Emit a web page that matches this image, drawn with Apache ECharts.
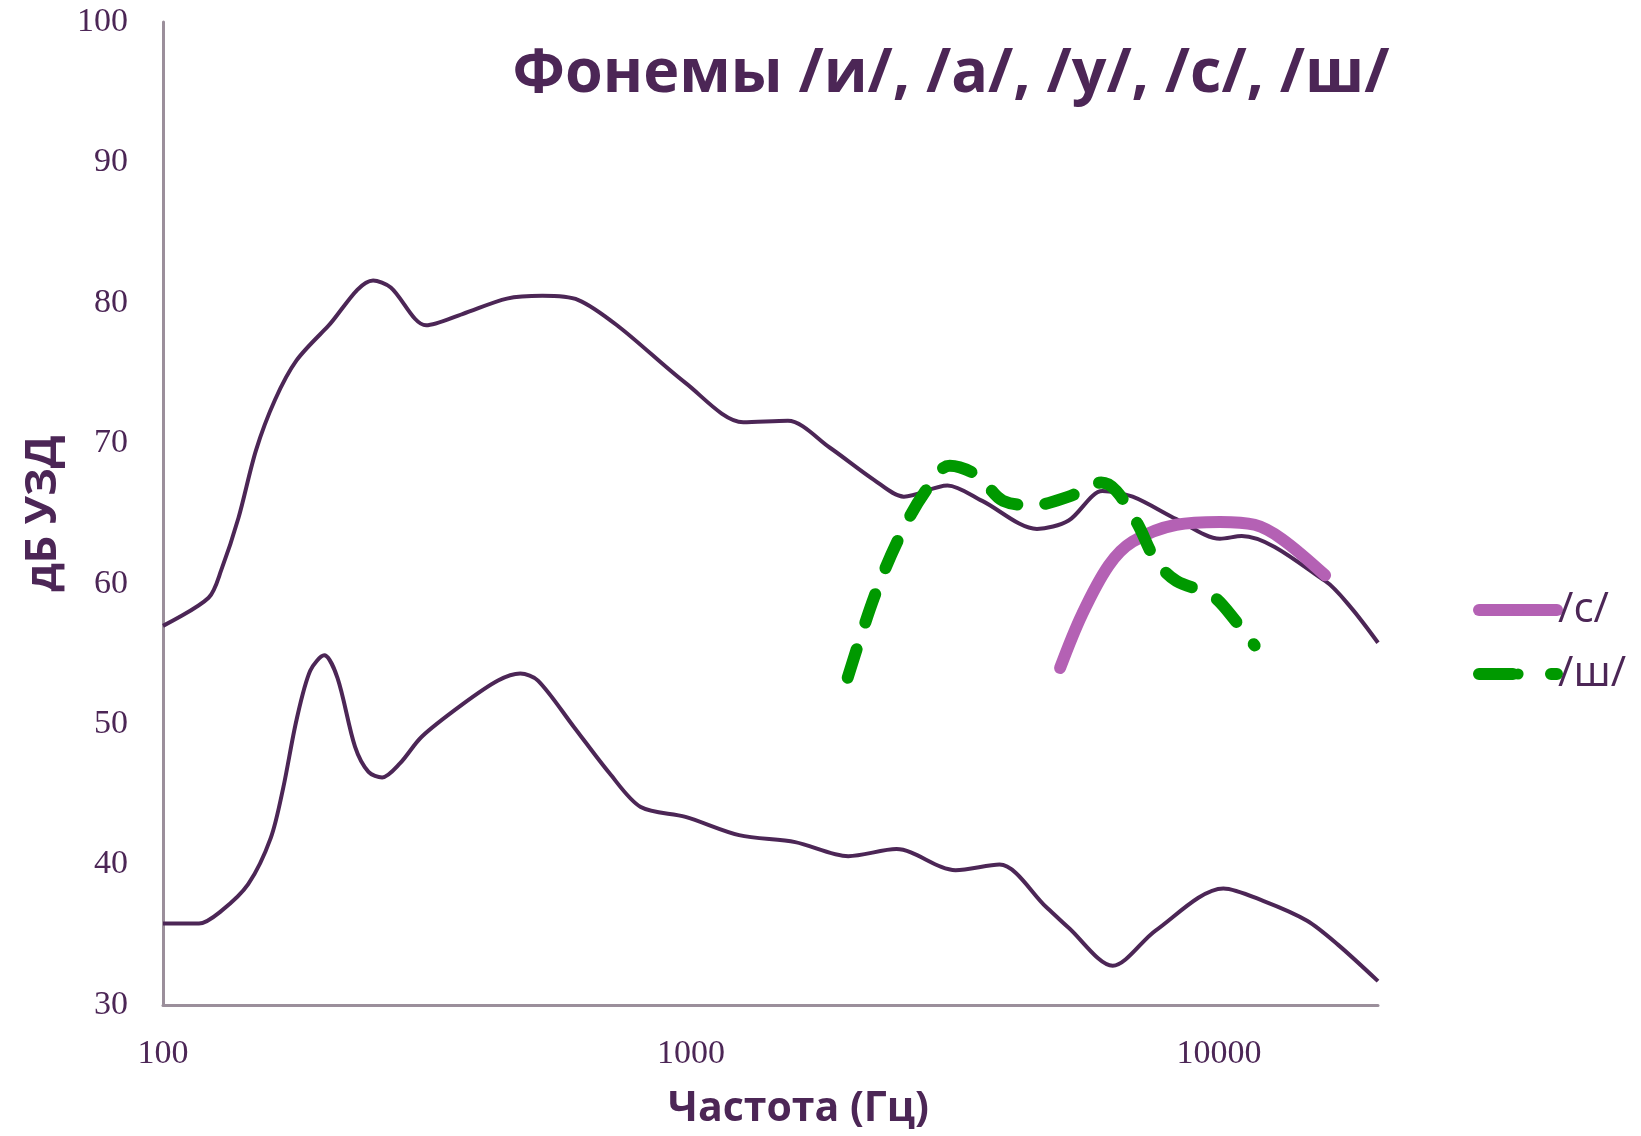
<!DOCTYPE html>
<html>
<head>
<meta charset="utf-8">
<script src="https://cdn.jsdelivr.net/npm/echarts@6/dist/echarts.min.js"></script>
<style>
  html, body { margin: 0; padding: 0; background: #fff; }
  #chart { width: 1641px; height: 1136px; }
</style>
</head>
<body>
<div id="chart"></div>
<script>
// верхняя граница речевого банана
var upperFreq = [100, 122, 129, 139, 150, 163, 179, 205, 250, 270, 315, 369, 448, 523, 612, 730, 976, 1256, 1526, 1830, 2220, 2530, 3060, 3560, 4520, 5190, 6010, 6860, 8300, 10040, 11040, 15880, 17780, 20000];
var upperDb = [57.0, 59.0, 61.0, 64.7, 69.5, 73.1, 75.9, 78.3, 81.6, 81.1, 78.4, 79.2, 80.3, 80.5, 80.2, 78.3, 74.3, 71.5, 71.6, 69.7, 67.4, 66.2, 67.0, 65.9, 63.9, 64.5, 66.6, 66.2, 64.6, 63.2, 63.4, 60.2, 58.3, 55.8];
// нижняя граница
var lowerFreq = [100, 117, 129, 145, 160, 169, 179, 190, 202, 214, 231, 245, 260, 281, 309, 369, 431, 475, 513, 600, 701, 803, 976, 1233, 1575, 1985, 2450, 3170, 3840, 4700, 5190, 6290, 7580, 10190, 12150, 14680, 16790, 20000];
var lowerDb = [35.8, 35.8, 36.7, 38.6, 41.9, 45.5, 50.3, 53.8, 54.9, 53.3, 48.4, 46.6, 46.2, 47.2, 49.1, 51.4, 53.1, 53.6, 53.1, 49.8, 46.5, 44.1, 43.4, 42.1, 41.6, 40.6, 41.1, 39.6, 40.0, 37.0, 35.5, 32.8, 35.3, 38.3, 37.4, 36.0, 34.3, 31.7];
// /с/
var sFreq = [5000, 5500, 6180, 6860, 8300, 10040, 11680, 13140, 15880];
var sDb = [54.0, 57.8, 61.3, 63.0, 64.2, 64.4, 64.2, 63.2, 60.6];
// /ш/
var shFreq = [1980, 2220, 2480, 2780, 3090, 3490, 3900, 4450, 5190, 5980, 6390, 7000, 7580, 8300, 9670, 10830, 11680];
var shDb = [53.3, 59.0, 63.3, 66.6, 68.4, 67.7, 65.9, 65.6, 66.2, 67.2, 66.6, 64.3, 61.7, 60.2, 59.2, 57.2, 55.6];

var xTickLabels = [100, 1000, 10000];
var yMin = 30, yMax = 100, yStep = 10;

var dark = '#4C2656';
var axisGray = '#9B8F9B';

function pairs(xs, ys) {
  return xs.map(function (x, i) { return [x, ys[i]]; });
}

var myChart = echarts.init(document.getElementById('chart'));
var option = {
  animation: false,
  backgroundColor: '#fff',
  title: {
    text: 'Фонемы /и/, /а/, /у/, /с/, /ш/',
    left: 946,
    textAlign: 'center',
    top: 39,
    textStyle: {
      color: dark,
      fontFamily: 'Open Sans',
      fontWeight: 'bold',
      fontSize: 61
    }
  },
  legend: {
    data: [
      { name: '/с/' },
      { name: '/ш/', lineStyle: { type: [34, 38] } }
    ],
    orient: 'vertical',
    left: 1468,
    top: 584,
    itemWidth: 78,
    itemHeight: 14,
    itemGap: 22,
    textStyle: { color: dark, fontFamily: 'Open Sans', fontSize: 42, padding: [0, 0, 0, -4] },
    lineStyle: { width: 'inherit' }
  },
  grid: { left: 163, right: 263, top: 22, bottom: 131 },
  xAxis: {
    type: 'log',
    logBase: 10,
    min: 100,
    max: 20000,
    name: 'Частота (Гц)',
    nameLocation: 'middle',
    nameGap: 84,
    nameTextStyle: { color: dark, fontFamily: 'Open Sans', fontWeight: 'bold', fontSize: 41, padding: [0, 0, 0, 56] },
    axisLine: { lineStyle: { color: axisGray, width: 3 } },
    axisTick: { show: false },
    splitLine: { show: false },
    axisLabel: {
      margin: 32,
      color: dark,
      fontFamily: 'Liberation Serif',
      fontSize: 34,
      formatter: function (v) {
        for (var i = 0; i < xTickLabels.length; i++) {
          if (Math.abs(v - xTickLabels[i]) < xTickLabels[i] * 1e-6) return String(xTickLabels[i]);
        }
        return '';
      }
    }
  },
  yAxis: {
    type: 'value',
    min: yMin,
    max: yMax,
    interval: yStep,
    name: 'дБ УЗД',
    nameLocation: 'middle',
    nameGap: 98,
    nameTextStyle: { color: dark, fontFamily: 'Open Sans', fontWeight: 'bold', fontSize: 43 },
    axisLine: { show: true, lineStyle: { color: axisGray, width: 3 } },
    axisTick: { show: false },
    splitLine: { show: false },
    axisLabel: { margin: 35, color: dark, fontFamily: 'Liberation Serif', fontSize: 34 }
  },
  series: [
    {
      name: 'upper',
      type: 'line',
      data: pairs(upperFreq, upperDb),
      smooth: 0.3,
      symbol: 'none',
      lineStyle: { color: dark, width: 4 },
      z: 2
    },
    {
      name: 'lower',
      type: 'line',
      data: pairs(lowerFreq, lowerDb),
      smooth: 0.3,
      symbol: 'none',
      lineStyle: { color: dark, width: 4 },
      z: 2
    },
    {
      name: '/с/',
      type: 'line',
      data: pairs(sFreq, sDb),
      smooth: 0.35,
      symbol: 'none',
      itemStyle: { color: '#B461B4' },
      lineStyle: { color: '#B461B4', width: 12, cap: 'round', join: 'round' },
      z: 3
    },
    {
      name: '/ш/',
      type: 'line',
      data: pairs(shFreq, shDb),
      smooth: 0.35,
      symbol: 'none',
      itemStyle: { color: '#009900' },
      lineStyle: { color: '#009900', width: 12, type: [30, 28], cap: 'round', join: 'round' },
      z: 4
    }
  ]
};
myChart.setOption(option);
</script>
</body>
</html>
